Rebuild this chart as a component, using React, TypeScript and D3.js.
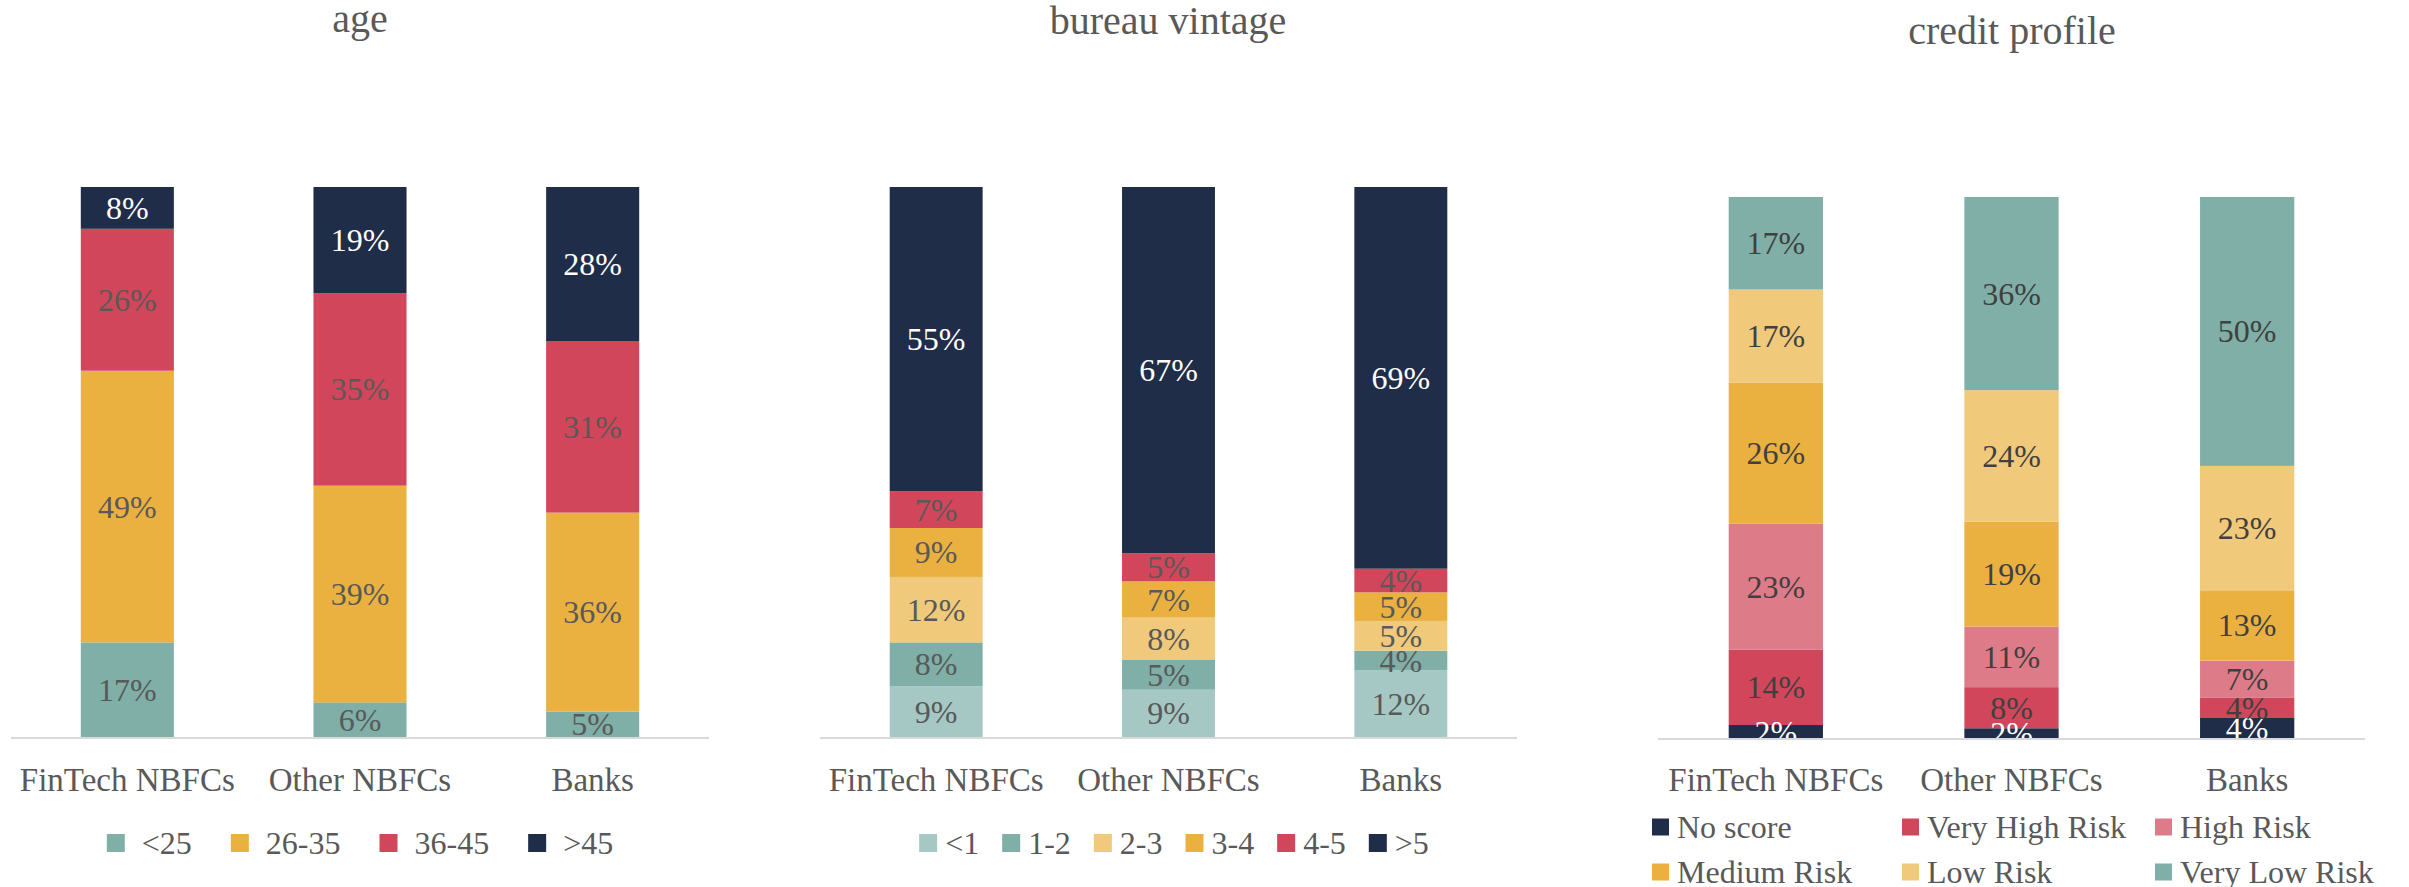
import React, { useEffect, useRef } from 'react';
import * as d3 from 'd3';

const categories = ['FinTech NBFCs', 'Other NBFCs', 'Banks'];

// age
const ageKeys = ['<25', '26-35', '36-45', '>45'];
const ageUnder25 = [17.2, 6.3, 4.6];
const age26to35 = [49.4, 39.4, 36.2];
const age36to45 = [25.8, 35.0, 31.2];
const ageOver45 = [7.6, 19.3, 28.0];

// bureau vintage
const vintageKeys = ['<1', '1-2', '2-3', '3-4', '4-5', '>5'];
const vintageUnder1 = [9.2, 8.6, 12.1];
const vintage1to2 = [8.0, 5.4, 3.6];
const vintage2to3 = [11.9, 7.7, 5.4];
const vintage3to4 = [8.9, 6.6, 5.2];
const vintage4to5 = [6.7, 5.1, 4.3];
const vintageOver5 = [55.3, 66.6, 69.4];

// credit profile
const creditKeys = ['No score', 'Very High Risk', 'High Risk', 'Medium Risk', 'Low Risk', 'Very Low Risk'];
const creditNoScore = [2.4, 1.8, 3.7];
const creditVeryHigh = [13.9, 7.6, 3.8];
const creditHigh = [23.3, 11.2, 6.8];
const creditMedium = [26.1, 19.4, 13.0];
const creditLow = [17.2, 24.3, 23.0];
const creditVeryLow = [17.1, 35.7, 49.7];

const NAVY = '#1F2D48';
const TEAL = '#7FAFA7';
const LIGHT_TEAL = '#A5C8C4';
const ORANGE = '#EAB141';
const LIGHT_ORANGE = '#F0C97B';
const RED = '#D1465A';
const PINK = '#DE7B89';

const FONT = '"Liberation Serif", "Times New Roman", serif';
const GREY = '#595959';

const buildRows = (keys, series) =>
    categories.map((c, i) => {
        const row = { category: c };
        keys.forEach((k, j) => { row[k] = series[j][i]; });
        return row;
    });

const panels = [
    {
        id: 'age', title: 'age', titleX: 360, titleY: 32,
        x0: 11, x1: 709, top: 187, base: 737,
        keys: ageKeys,
        series: [ageUnder25, age26to35, age36to45, ageOver45],
        colors: [TEAL, ORANGE, RED, NAVY],
        labelColor: GREY,
        legend: { type: 'row', cx: 360, y: 843, sw: 18, gap1: 17, gap2: 39 }
    },
    {
        id: 'vintage', title: 'bureau vintage', titleX: 1168, titleY: 34,
        x0: 820, x1: 1517, top: 187, base: 737,
        keys: vintageKeys,
        series: [vintageUnder1, vintage1to2, vintage2to3, vintage3to4, vintage4to5, vintageOver5],
        colors: [LIGHT_TEAL, TEAL, LIGHT_ORANGE, ORANGE, RED, NAVY],
        labelColor: GREY,
        legend: { type: 'row', cx: 1174, y: 843, sw: 18, gap1: 8, gap2: 23 }
    },
    {
        id: 'credit', title: 'credit profile', titleX: 2012, titleY: 44,
        x0: 1658, x1: 2365, top: 197, base: 738,
        keys: creditKeys,
        series: [creditNoScore, creditVeryHigh, creditHigh, creditMedium, creditLow, creditVeryLow],
        colors: [NAVY, RED, PINK, ORANGE, LIGHT_ORANGE, TEAL],
        labelColor: '#404040',
        legend: { type: 'grid', cols: [1652, 1902, 2155], rows: [827, 872], sw: 17, gap1: 8 }
    }
];

const App = () => {
    const ref = useRef(null);

    useEffect(() => {
        document.body.style.margin = '0';
        const svg = d3.select(ref.current);
        svg.selectAll('*').remove();

        panels.forEach((p) => {
            const g = svg.append('g');
            const rows = buildRows(p.keys, p.series);
            const stacked = d3.stack().keys(p.keys)(rows);
            const color = d3.scaleOrdinal(p.keys, p.colors);

            const x = d3.scaleBand()
                .domain(categories)
                .range([p.x0, p.x1])
                .paddingInner(0.6)
                .paddingOuter(0.3);
            const y = d3.scaleLinear().domain([0, 100]).range([p.base, p.top]);

            // title
            g.append('text')
                .attr('x', p.titleX)
                .attr('y', p.titleY)
                .attr('text-anchor', 'middle')
                .attr('font-family', FONT)
                .attr('font-size', 40)
                .attr('fill', GREY)
                .text(p.title);

            // bars
            g.selectAll('g.layer')
                .data(stacked)
                .enter()
                .append('g')
                .attr('fill', (d) => color(d.key))
                .selectAll('rect')
                .data((d) => d)
                .enter()
                .append('rect')
                .attr('x', (d) => x(d.data.category))
                .attr('y', (d) => y(d[1]))
                .attr('width', x.bandwidth())
                .attr('height', (d) => y(d[0]) - y(d[1]));

            // labels, clipped to plot area
            const clipId = 'clip-' + p.id;
            svg.append('clipPath').attr('id', clipId)
                .append('rect')
                .attr('x', p.x0).attr('y', p.top - 20)
                .attr('width', p.x1 - p.x0).attr('height', p.base - p.top + 20);

            const labels = g.append('g').attr('clip-path', 'url(#' + clipId + ')');
            stacked.forEach((layer) => {
                labels.selectAll(null)
                    .data(layer)
                    .enter()
                    .append('text')
                    .attr('x', (d) => x(d.data.category) + x.bandwidth() / 2)
                    .attr('y', (d) => (y(d[0]) + y(d[1])) / 2 + 11)
                    .attr('text-anchor', 'middle')
                    .attr('font-family', FONT)
                    .attr('font-size', 32)
                    .attr('fill', color(layer.key) === NAVY ? '#ffffff' : p.labelColor)
                    .text((d) => Math.round(d[1] - d[0]) + '%');
            });

            // axis line
            g.append('line')
                .attr('x1', p.x0).attr('x2', p.x1)
                .attr('y1', p.base + 1).attr('y2', p.base + 1)
                .attr('stroke', '#D9D9D9')
                .attr('stroke-width', 2);

            // category labels
            g.selectAll('text.cat')
                .data(categories)
                .enter()
                .append('text')
                .attr('class', 'cat')
                .attr('x', (d) => x(d) + x.bandwidth() / 2)
                .attr('y', 791)
                .attr('text-anchor', 'middle')
                .attr('font-family', FONT)
                .attr('font-size', 33)
                .attr('fill', GREY)
                .text((d) => d);

            // legend
            const lg = p.legend;
            const leg = g.append('g');
            if (lg.type === 'row') {
                const items = p.keys.map((k) => {
                    const item = leg.append('g');
                    item.append('rect')
                        .attr('width', lg.sw).attr('height', lg.sw)
                        .attr('y', lg.y - lg.sw / 2)
                        .attr('fill', color(k));
                    const t = item.append('text')
                        .attr('x', lg.sw + lg.gap1)
                        .attr('y', lg.y + 11)
                        .attr('font-family', FONT)
                        .attr('font-size', 32)
                        .attr('fill', GREY)
                        .text(k);
                    return { item, w: lg.sw + lg.gap1 + t.node().getComputedTextLength() };
                });
                const total = d3.sum(items, (d) => d.w) + lg.gap2 * (items.length - 1);
                let cx = lg.cx - total / 2;
                items.forEach((d) => {
                    d.item.attr('transform', 'translate(' + cx + ',0)');
                    cx += d.w + lg.gap2;
                });
            } else {
                p.keys.forEach((k, i) => {
                    const col = i % lg.cols.length;
                    const row = Math.floor(i / lg.cols.length);
                    const lx = lg.cols[col];
                    const ly = lg.rows[row];
                    leg.append('rect')
                        .attr('x', lx).attr('y', ly - lg.sw / 2)
                        .attr('width', lg.sw).attr('height', lg.sw)
                        .attr('fill', color(k));
                    leg.append('text')
                        .attr('x', lx + lg.sw + lg.gap1)
                        .attr('y', ly + 11)
                        .attr('font-family', FONT)
                        .attr('font-size', 32)
                        .attr('fill', GREY)
                        .text(k);
                });
            }
        });
    }, []);

    return (
        <svg ref={ref} width={2409} height={887} style={{ display: 'block', background: '#ffffff' }} />
    );
};

export default App;
